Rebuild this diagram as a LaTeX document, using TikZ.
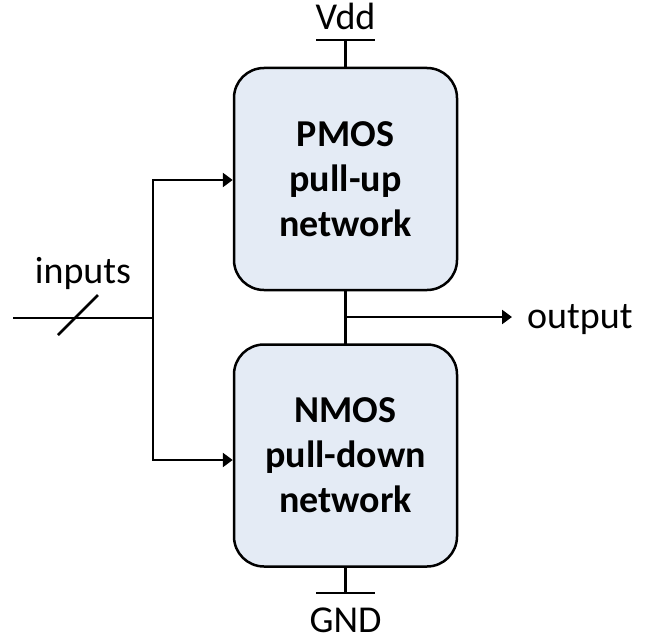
\documentclass[tikz,border=0pt]{standalone}
\usepackage{fontspec}
\setmainfont{Carlito}
\usetikzlibrary{arrows.meta}
\definecolor{boxfill}{RGB}{228,235,245}
\tikzset{
  wire/.style={line width=2.5pt, line cap=rect},
  feed/.style={line width=2.5pt, -{Triangle[length=10pt,width=14pt]}},
  netbox/.style={draw, line width=2.5pt, fill=boxfill, rounded corners=30pt,
    minimum width=223pt, minimum height=222pt, inner sep=0pt, align=center,
    font=\fontsize{38}{45}\selectfont\bfseries},
  lbl/.style={inner sep=0pt, font=\fontsize{38}{45}\selectfont}
}
\begin{document}
\begin{tikzpicture}[x=1pt, y=-1pt]
  \useasboundingbox (0,0) rectangle (656,642);

  % pull-up and pull-down networks
  \node[netbox] (up)   at (345.5,179)   {PMOS\\pull-up\\network};
  \node[netbox] (down) at (345.5,455.5) {NMOS\\pull-down\\network};

  % supply rail
  \coordinate (vddl) at (317,40);
  \coordinate (vddr) at (374,40);
  \coordinate (vddm) at (345.5,40);
  \draw[wire] (vddl) -- (vddr);
  \draw[wire] (vddm) -- (up.north);
  \node[lbl, anchor=base] (vdd) at (345.5,30) {Vdd};

  % ground rail
  \coordinate (gndl) at (317,593);
  \coordinate (gndr) at (374,593);
  \coordinate (gndm) at (345.5,593);
  \draw[wire] (gndl) -- (gndr);
  \draw[wire] (down.south) -- (gndm);
  \node[lbl, anchor=base] (gnd) at (345.5,632) {GND};

  % output node between the two networks
  \draw[wire] (up.south) -- (down.north);
  \coordinate (oj) at (345.5,317);
  \node[lbl, anchor=base west] (out) at (527,328) {output};
  \coordinate (otip) at (512,317);
  \draw[feed] (oj) -- (otip);

  % input bus feeding both networks
  \coordinate (inl) at (14,318);
  \coordinate (ij) at (153,318);
  \coordinate (itop) at (153,180);
  \coordinate (ibot) at (153,460);
  \draw[wire] (inl) -- (ij);
  \draw[wire] (itop) -- (ibot);
  \draw[feed] (itop) -- (up.west |- itop);
  \draw[feed] (ibot) -- (down.west |- ibot);
  \coordinate (s1) at (58,335);
  \coordinate (s2) at (98,295);
  \draw[line width=2.5pt] (s1) -- (s2);
  \node[lbl, anchor=base] (inp) at (83,283) {inputs};
\end{tikzpicture}
\end{document}
